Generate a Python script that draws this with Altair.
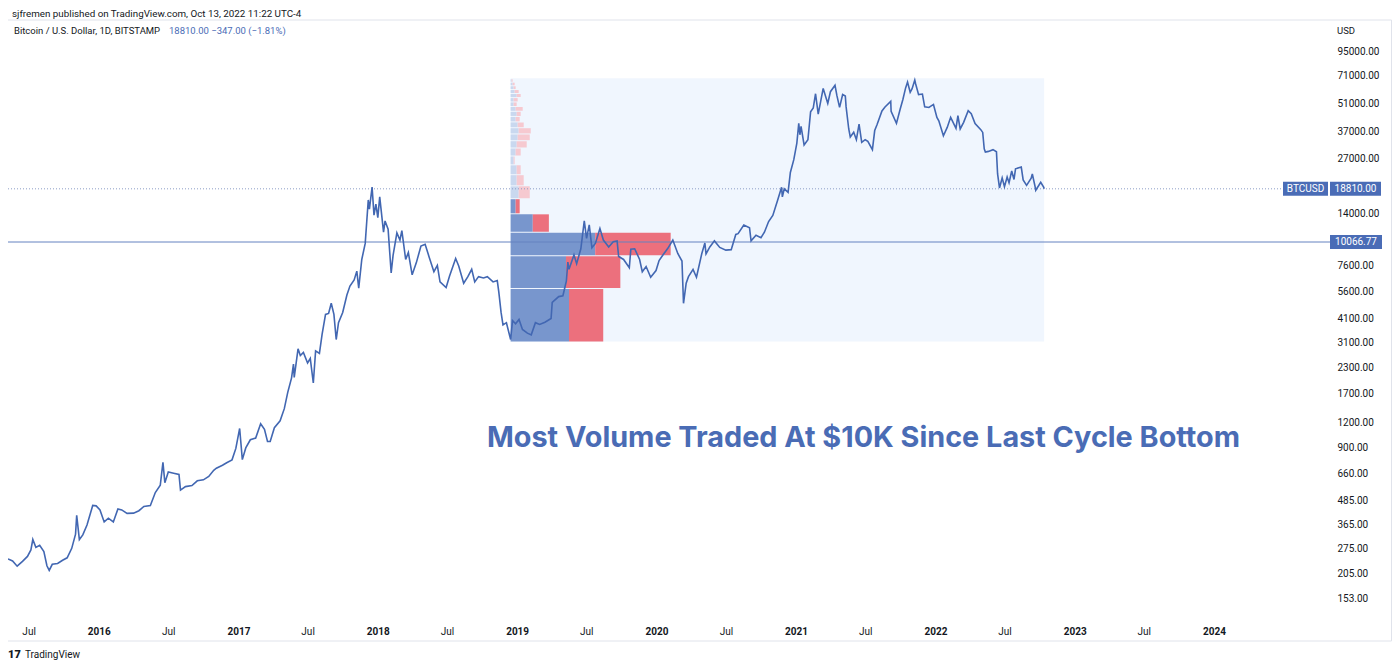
import altair as alt
import pandas as pd

# ---------------- data ----------------
dates = [
    "2015-05-08","2015-05-20","2015-06-01","2015-06-15","2015-06-28","2015-07-07","2015-07-12","2015-07-20",
    "2015-07-30","2015-08-10","2015-08-18","2015-08-24","2015-09-01","2015-09-15","2015-09-28","2015-10-10",
    "2015-10-22","2015-11-01","2015-11-04","2015-11-11","2015-11-20","2015-12-01","2015-12-10","2015-12-16",
    "2015-12-25","2016-01-04","2016-01-15","2016-01-26","2016-02-08","2016-02-20","2016-03-01","2016-03-15",
    "2016-04-01","2016-04-15","2016-04-28","2016-05-15","2016-05-28","2016-06-10","2016-06-17","2016-06-22",
    "2016-07-01","2016-07-15","2016-07-29","2016-08-02","2016-08-15","2016-09-01","2016-09-15","2016-10-01",
    "2016-10-15","2016-10-28","2016-11-04","2016-11-20","2016-12-01","2016-12-15","2016-12-25","2017-01-04",
    "2017-01-11","2017-01-20","2017-02-01","2017-02-15","2017-02-28","2017-03-10","2017-03-18","2017-03-25",
    "2017-04-05","2017-04-20","2017-05-01","2017-05-10","2017-05-20","2017-05-25","2017-05-27","2017-06-06",
    "2017-06-12","2017-06-20","2017-07-01","2017-07-08","2017-07-16","2017-07-22","2017-08-01","2017-08-08",
    "2017-08-17","2017-08-25","2017-09-01","2017-09-08","2017-09-14","2017-09-20","2017-10-01","2017-10-12",
    "2017-10-20","2017-10-31","2017-11-07","2017-11-12","2017-11-20","2017-11-29","2017-12-07","2017-12-10",
    "2017-12-17","2017-12-22","2017-12-27","2018-01-01","2018-01-06","2018-01-16","2018-01-20","2018-01-28",
    "2018-02-05","2018-02-10","2018-02-20","2018-02-28","2018-03-05","2018-03-15","2018-03-22","2018-04-01",
    "2018-04-12","2018-04-24","2018-05-05","2018-05-15","2018-05-28","2018-06-06","2018-06-13","2018-06-29",
    "2018-07-08","2018-07-24","2018-08-01","2018-08-14","2018-08-25","2018-09-04","2018-09-12","2018-09-22",
    "2018-10-05","2018-10-15","2018-10-30","2018-11-10","2018-11-14","2018-11-20","2018-11-25","2018-12-04",
    "2018-12-15","2018-12-20","2018-12-28","2019-01-06","2019-01-15","2019-01-28","2019-02-07","2019-02-18",
    "2019-03-01","2019-03-15","2019-03-31","2019-04-03","2019-04-20","2019-05-01","2019-05-10","2019-05-14",
    "2019-05-17","2019-05-30","2019-06-06","2019-06-17","2019-06-26","2019-07-02","2019-07-09","2019-07-16",
    "2019-07-25","2019-08-06","2019-08-15","2019-08-29","2019-09-10","2019-09-20","2019-09-24","2019-10-07",
    "2019-10-22","2019-10-26","2019-11-05","2019-11-18","2019-11-25","2019-12-05","2019-12-17","2019-12-31",
    "2020-01-08","2020-01-19","2020-01-31","2020-02-13","2020-02-26","2020-03-08","2020-03-12","2020-03-19",
    "2020-03-25","2020-04-06","2020-04-15","2020-04-29","2020-05-07","2020-05-10","2020-05-20","2020-06-01",
    "2020-06-15","2020-07-01","2020-07-15","2020-07-27","2020-08-02","2020-08-17","2020-09-01","2020-09-05",
    "2020-09-18","2020-10-01","2020-10-10","2020-10-21","2020-11-01","2020-11-13","2020-11-24","2020-11-26",
    "2020-12-01","2020-12-11","2020-12-17","2020-12-26","2021-01-03","2021-01-08","2021-01-11","2021-01-14",
    "2021-01-22","2021-02-01","2021-02-08","2021-02-15","2021-02-21","2021-02-28","2021-03-13","2021-03-25",
    "2021-04-01","2021-04-13","2021-04-18","2021-04-25","2021-05-03","2021-05-10","2021-05-12","2021-05-19",
    "2021-05-23","2021-06-01","2021-06-08","2021-06-15","2021-06-22","2021-07-01","2021-07-08","2021-07-20",
    "2021-07-26","2021-08-01","2021-08-14","2021-08-22","2021-09-06","2021-09-07","2021-09-21","2021-10-01",
    "2021-10-08","2021-10-15","2021-10-20","2021-10-27","2021-11-01","2021-11-08","2021-11-10","2021-11-18",
    "2021-11-28","2021-12-04","2021-12-15","2021-12-27","2022-01-05","2022-01-10","2022-01-22","2022-02-01",
    "2022-02-10","2022-02-24","2022-03-01","2022-03-07","2022-03-16","2022-03-28","2022-04-05","2022-04-15",
    "2022-04-30","2022-05-05","2022-05-09","2022-05-12","2022-05-20","2022-06-01","2022-06-10","2022-06-13",
    "2022-06-18","2022-06-25","2022-07-01","2022-07-08","2022-07-13","2022-07-20","2022-07-26","2022-07-30",
    "2022-08-14","2022-08-19","2022-08-28","2022-09-09","2022-09-12","2022-09-19","2022-09-21","2022-10-04",
    "2022-10-12","2022-10-13",
]
prices = [
    243,237,223,236,250,270,305,278,
    285,265,224,212,228,230,239,246,
    275,325,405,305,322,362,415,455,
    453,432,375,392,375,437,432,415,
    416,428,450,455,530,578,755,595,
    675,665,655,545,568,575,608,615,
    640,688,705,730,752,778,890,1125,
    780,895,985,1005,1190,1115,965,965,
    1135,1230,1420,1720,2040,2400,2050,2870,
    2650,2750,2430,2560,1920,2800,2720,3400,
    4300,4350,4900,4300,3200,3900,4400,5400,
    6000,6450,7150,5850,8200,9900,16500,14800,
    19200,13800,15700,13400,17100,11300,12900,11700,
    7000,8600,11200,10300,11500,8200,8900,6850,
    7900,9600,9800,8500,7100,7650,6300,5900,
    6750,8300,7600,6200,6700,7300,6300,6700,
    6600,6700,6300,6400,5600,4400,3800,3900,
    3200,4000,3850,4050,3600,3450,3380,3900,
    3820,3920,4100,4950,5300,5350,6350,7950,
    7300,8650,7800,9300,12900,10500,12300,9400,
    9900,11800,10300,9500,10100,10200,8500,8200,
    7450,9250,9300,8200,7100,7550,6650,7200,
    8100,8700,9350,10300,8800,8050,4900,6200,
    6700,7300,6650,8800,9950,8750,9500,10200,
    9450,9150,9200,11000,11100,12300,11900,10200,
    10900,10600,11300,12800,13750,16300,19150,17100,
    18800,18050,22800,26500,32200,40600,35500,39200,
    31500,33500,46500,48700,57500,45300,61200,51300,
    58900,63500,56200,49000,57000,56000,49400,38000,
    34600,36600,33500,40200,32500,33500,32900,29800,
    37300,39900,47000,49200,52600,46800,40600,48200,
    53900,61600,66000,58500,61000,67500,64900,56900,
    57300,49300,48900,50700,43500,41800,35100,38700,
    43600,38300,44400,38000,41100,47100,45500,40500,
    37700,36500,30100,29000,29200,29800,29100,22400,
    19000,21400,19300,21600,20200,23200,21000,23800,
    24300,20900,19600,21300,22400,19400,18500,20300,
    19150,18810,
]

# Fixed-range volume profile (Dec 2018 low -> Oct 2022), 24 rows
vp_start = "2018-12-15"
vp_end = "2022-10-13"
vp_low = 3122.0
vp_high = 69000.0
vp_rows = 24
up_vol = [58, 55, 84, 22, 5, 8, 6, 6, 3, 5, 6, 7, 8, 7, 5, 6, 5, 3, 3, 6, 4, 3, 2, 1]
down_vol = [34, 54, 75, 16, 4, 11, 7, 4, 1, 5, 10, 12, 12, 6, 4, 4, 7, 3, 4, 4, 4, 2, 2, 1]
value_area = [True, True, True, True, True] + [False] * 19
profile_width_share = 0.30

symbol = "BTCUSD"
last_price = 18810.00
change = -347.00
change_pct = -1.81
poc_price = 10066.77

y_domain = [122.7, 136800]
y_ticks = [153, 205, 275, 365, 485, 660, 900, 1200, 1700, 2300, 3100, 4100, 5600, 7600,
           14000, 27000, 37000, 51000, 71000, 95000]
x_domain = ["2015-05-08", "2024-10-31"]
x_ticks = ["2015-07-01", "2016-01-01", "2016-07-01", "2017-01-01", "2017-07-01", "2018-01-01",
           "2018-07-01", "2019-01-01", "2019-07-01", "2020-01-01", "2020-07-01", "2021-01-01",
           "2021-07-01", "2022-01-01", "2022-07-01", "2023-01-01", "2023-07-01", "2024-01-01"]

header = "sjfremen published on TradingView.com, Oct 13, 2022 11:22 UTC-4"
legend = "Bitcoin / U.S. Dollar, 1D, BITSTAMP"
annotation = "Most Volume Traded At $10K Since Last Cycle Bottom"

# ---------------- build tables ----------------
def ms(d):
    return int(pd.Timestamp(d, tz="UTC").value // 10**6)

W, H = 1322, 597
FONT = "Roboto"
BLUE = "#4267b2"
LABEL_BLUE = "#4a6cb6"

line_df = pd.DataFrame({"t": [ms(d) for d in dates], "p": prices})

s0, s1 = ms(vp_start), ms(vp_end)
step = (vp_high - vp_low) / vp_rows
max_total = max(u + d for u, d in zip(up_vol, down_vol))
k = profile_width_share * (s1 - s0) / max_total
rows = []
for i in range(vp_rows):
    xb = s0 + up_vol[i] * k
    xr = xb + down_vol[i] * k
    rows.append({"lo": vp_low + i * step, "hi": vp_low + (i + 1) * step,
                 "x0": s0, "xb": xb, "xr": xr, "va": value_area[i]})
vp_df = pd.DataFrame(rows)
box_df = pd.DataFrame({"x0": [s0], "x1": [s1], "lo": [vp_low], "hi": [vp_high]})

xs = alt.Scale(type="utc", domain=[ms(x_domain[0]), ms(x_domain[1])])
ys = alt.Scale(type="log", domain=y_domain, nice=False)

x_axis = alt.Axis(
    values=[ms(v) for v in x_ticks], title=None, grid=False, ticks=False, tickSize=0,
    domain=False, labelPadding=9, labelFontSize=10, labelFont=FONT, labelColor="#131722",
    labelFlush=False, labelOverlap=False,
    labelExpr="utcmonth(datum.value) == 0 ? utcFormat(datum.value, '%Y') : 'Jul'",
    labelFontWeight={"condition": {"test": "utcmonth(datum.value) == 0", "value": "bold"},
                     "value": "normal"},
)
y_axis = alt.Axis(
    orient="right", values=y_ticks, format=".2f", title=None, grid=False, ticks=False,
    tickSize=0, domain=False, labelPadding=7, labelFontSize=10, labelFont=FONT,
    labelColor="#131722", labelAlign="left", labelOverlap=False,
)

def X(field):
    return alt.X(field, scale=xs, axis=x_axis)

def Y(field):
    return alt.Y(field, scale=ys, axis=y_axis)

border = alt.Chart(pd.DataFrame({"a": [0]})).mark_rect(
    fill=None, stroke="#e0e3eb", strokeWidth=1
).encode(x=alt.value(-2), x2=alt.value(W + 61.5), y=alt.value(0), y2=alt.value(H + 24))

box = alt.Chart(box_df).mark_rect(color="#f0f6fe").encode(
    x=X("x0:T"), x2="x1:T", y=Y("lo:Q"), y2="hi:Q")

up_bars = alt.Chart(vp_df).mark_rect(y2Offset=1).encode(
    x=X("x0:T"), x2="xb:T", y=Y("lo:Q"), y2="hi:Q",
    color=alt.condition("datum.va", alt.value("#7896cd"), alt.value("#c9d8ef")))

down_bars = alt.Chart(vp_df).mark_rect(y2Offset=1).encode(
    x=X("xb:T"), x2="xr:T", y=Y("lo:Q"), y2="hi:Q",
    color=alt.condition("datum.va", alt.value("#ec707d"), alt.value("#f6c9d0")))

lvl_df = pd.DataFrame({"p": [last_price]})
poc_df = pd.DataFrame({"p": [poc_price]})

last_rule = alt.Chart(lvl_df).mark_rule(color="#8c9ec6", strokeDash=[1, 2], strokeWidth=1).encode(
    y=Y("p:Q"), x=alt.value(0), x2=alt.value(W - 47))

poc_rule = alt.Chart(poc_df).mark_rule(color="#6482c0", strokeWidth=1).encode(
    y=Y("p:Q"), x=alt.value(0), x2=alt.value(W))

price_line = alt.Chart(line_df).mark_line(color=BLUE, strokeWidth=1.6).encode(
    x=X("t:T"), y=Y("p:Q"))

# price-scale label boxes
sym_box = alt.Chart(lvl_df).mark_tick(color=LABEL_BLUE, thickness=14, size=45, opacity=1).encode(
    y=Y("p:Q"), x=alt.value(W - 24.5))
sym_txt = alt.Chart(lvl_df).mark_text(color="white", fontSize=10, font=FONT, text=symbol).encode(
    y=Y("p:Q"), x=alt.value(W - 24.5))
last_box = alt.Chart(lvl_df).mark_tick(color=LABEL_BLUE, thickness=14, size=51, opacity=1).encode(
    y=Y("p:Q"), x=alt.value(W + 25.5))
last_txt = alt.Chart(lvl_df).mark_text(color="white", fontSize=10, font=FONT).encode(
    y=Y("p:Q"), x=alt.value(W + 25.5), text=alt.Text("p:Q", format=".2f"))
poc_box = alt.Chart(poc_df).mark_tick(color=LABEL_BLUE, thickness=14, size=52, opacity=1).encode(
    y=Y("p:Q"), x=alt.value(W + 26))
poc_txt = alt.Chart(poc_df).mark_text(color="white", fontSize=10, font=FONT).encode(
    y=Y("p:Q"), x=alt.value(W + 26), text=alt.Text("p:Q", format=".2f"))

def label(txt, x, y, size=10, color="#131722", weight="normal", font=FONT):
    return alt.Chart(pd.DataFrame({"s": [txt]})).mark_text(
        align="left", baseline="middle", fontSize=size, color=color, fontWeight=weight, font=font
    ).encode(text="s:N", x=alt.value(x), y=alt.value(y))

value_txt = f"{last_price:.2f}  \u2212{abs(change):.2f} (\u2212{abs(change_pct):.2f}%)"

texts = [
    label(header, 4, -6.5, 9.8),
    label(legend, 6, 11, 9.5),
    label(value_txt, 161, 11, 9.5, color=LABEL_BLUE),
    label("USD", 1329, 11, 9.5),
    label(annotation, 479, 418, 28.8, color="#4a6cb5", weight="bold", font="Inter"),
    label("17", 0, 635, 11, weight=900),
    label("TradingView", 17, 635, 10),
]

chart = alt.layer(
    border, box, up_bars, down_bars, last_rule, poc_rule, price_line,
    sym_box, sym_txt, last_box, last_txt, poc_box, poc_txt, *texts
).properties(
    width=W, height=H,
    autosize=alt.AutoSizeParams(type="none"),
    padding={"left": 0, "top": 12, "right": 62, "bottom": 43},
    background="white",
).configure_view(stroke=None)

chart.save("out.html", embed_options={"renderer": "svg", "actions": False})
